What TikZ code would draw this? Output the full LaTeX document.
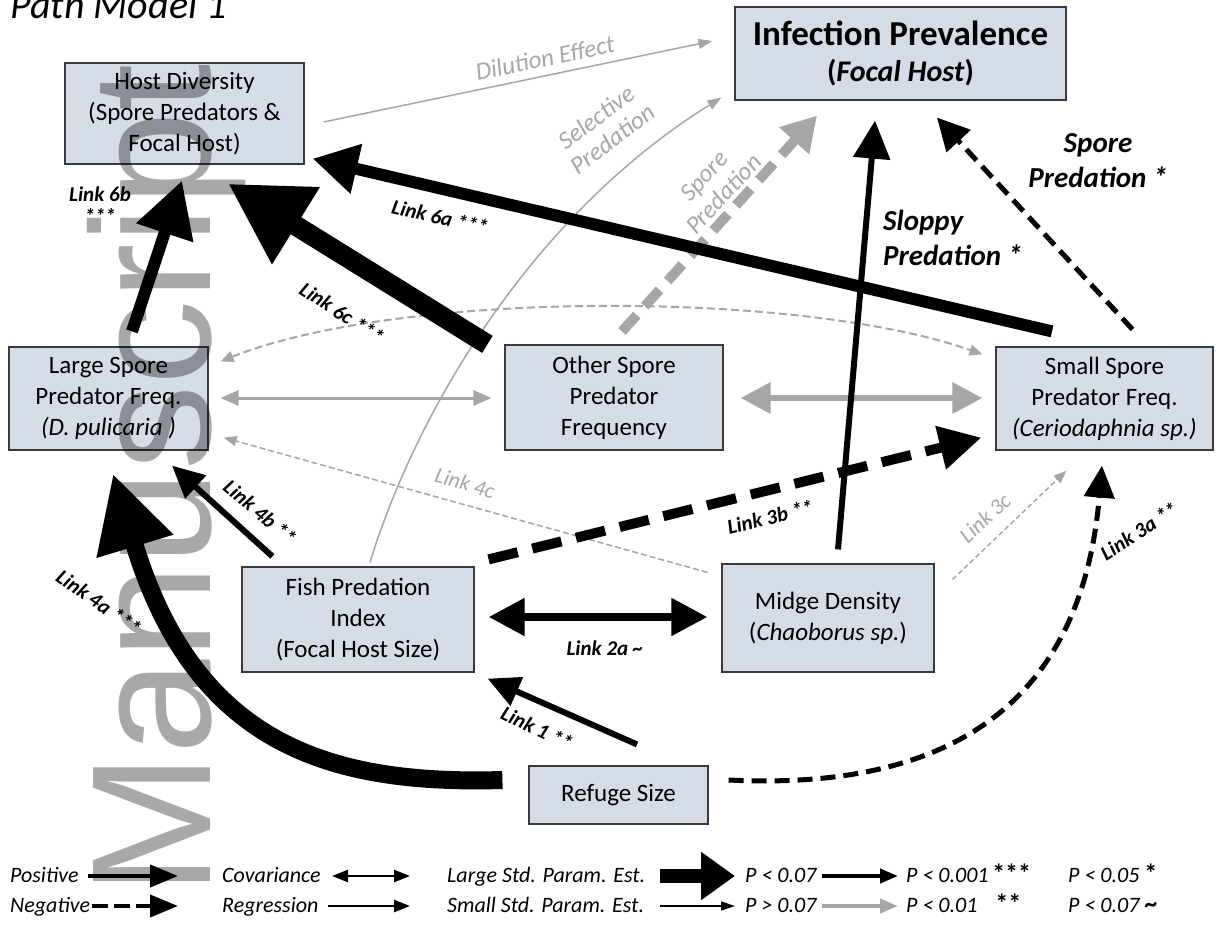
\documentclass[tikz,border=0pt]{standalone}
\usepackage{fontspec}
\setmainfont{Carlito}
\newfontfamily\wmfont{Liberation Sans}
\usetikzlibrary{arrows.meta}
\definecolor{boxfill}{HTML}{D6DCE5}
\definecolor{boxline}{HTML}{3A3A3A}
\definecolor{arrgray}{HTML}{A6A6A6}
\definecolor{wmgray}{HTML}{A8A8A8}
\tikzset{
  box/.style={draw=boxline, fill=boxfill, line width=1.2pt, align=center, inner sep=0pt, font=\fontsize{25}{31}\selectfont},
  graylab/.style={text=arrgray, align=center, inner sep=0pt, font=\fontsize{25}{27}\selectfont\itshape},
  graysmall/.style={text=arrgray, inner sep=0pt, font=\fontsize{22}{24}\selectfont\itshape},
  linklab/.style={align=center, inner sep=0pt, font=\fontsize{21}{22}\selectfont\bfseries\itshape},
  biglab/.style={inner sep=0pt, font=\fontsize{29}{35}\selectfont\bfseries\itshape},
  legtext/.style={anchor=base west, inner sep=0pt, font=\fontsize{22}{24}\selectfont\itshape},
  garrow/.style={draw=arrgray},
}
\begin{document}
\begin{tikzpicture}[x=1pt,y=-1pt]
\useasboundingbox (0,0) rectangle (1221,926);

\node[anchor=base west, inner sep=0pt, font=\fontsize{40}{44}\selectfont\itshape] (title) at (10,18) {Path Model 1};

% boxes
\node[box, minimum width=239pt, minimum height=101pt] (host) at (184.5,113.5) {Host Diversity\\(Spore Predators \&\\Focal Host)};
\node[box, minimum width=331pt, minimum height=93pt, font=\fontsize{35}{36}\selectfont\bfseries] (inf) at (900.5,53.5) {Infection Prevalence\\{\fontsize{30}{36}\selectfont(\textit{Focal Host})}};
\node[box, minimum width=199pt, minimum height=103pt] (large) at (108.5,398.5) {Large Spore\\Predator Freq.\\\textit{(D. pulicaria )}};
\node[box, minimum width=218pt, minimum height=105pt] (other) at (614,397.5) {Other Spore\\Predator\\Frequency};
\node[box, minimum width=217pt, minimum height=103pt] (small) at (1104.5,398.5) {Small Spore\\Predator Freq.\\\textit{(Ceriodaphnia sp.)}};
\node[box, minimum width=232pt, minimum height=105pt] (fish) at (358,619.5) {Fish Predation\\Index\\(Focal Host Size)};
\node[box, minimum width=212pt, minimum height=108pt] (midge) at (828,618) {Midge Density\\(\textit{Chaoborus sp.})};
\node[box, minimum width=179pt, minimum height=58pt] (refuge) at (618.5,795) {Refuge Size};

% gray arrows
\draw[garrow, line width=1.5pt, -{Triangle[length=14pt,width=10pt]}] ([shift={(19,8.5)}]host.east) -- ([shift={(-22,-12.5)}]inf.west);
\draw[garrow, line width=1.5pt, -{Triangle[length=14pt,width=10pt]}] ([shift={(12,-4)}]fish.north) .. controls (420,400) and (540,210) .. ([shift={(-13,-3)}]inf.south west);
\draw[garrow, line width=10pt, dash pattern=on 22pt off 12pt, -{Triangle[length=34pt,width=38pt]}] ([shift={(8,-13)}]other.north) -- ([shift={(-83.5,15)}]inf.south);
\draw[garrow, line width=2pt, dash pattern=on 8pt off 4pt, {Triangle[length=13pt,width=11pt]}-{Triangle[length=13pt,width=11pt]}] ([shift={(12,15)}]large.north east) .. controls (400,290) and (800,290) .. ([shift={(-13,8)}]small.north west);
\draw[garrow, line width=3pt, {Triangle[length=18pt,width=15pt]}-{Triangle[length=18pt,width=15pt]}] ([shift={(12,-0.5)}]large.east) -- ([shift={(-13,0.5)}]other.west);
\draw[garrow, line width=6.5pt, {Triangle[length=30pt,width=30pt]}-{Triangle[length=30pt,width=30pt]}] ([shift={(17,0.5)}]other.east) -- ([shift={(-13,-0.5)}]small.west);
\draw[garrow, line width=1.5pt, dash pattern=on 6pt off 3pt, -{Triangle[length=13pt,width=10pt]}] ([shift={(-14,9)}]midge.north west) -- ([shift={(15,-13)}]large.south east);
\draw[garrow, line width=1.5pt, dash pattern=on 5pt off 3pt, -{Triangle[length=13pt,width=10pt]}] ([shift={(18,16)}]midge.north east) -- ([shift={(71,20)}]small.south west);

% black arrows
\draw[line width=6pt, -{Triangle[length=38pt,width=36pt]}] ([shift={(10,-14)}]midge.north) -- ([shift={(-25.5,20)}]inf.south);
\draw[line width=5pt, dash pattern=on 15pt off 8pt, -{Triangle[length=32pt,width=32pt]}] ([shift={(28,-17)}]small.north) -- ([shift={(36.5,17)}]inf.south);
\draw[line width=12pt, -{Triangle[length=45pt,width=48pt]}] ([shift={(-52.5,-15)}]small.north) -- ([shift={(8,-6)}]host.south east);
\draw[line width=20pt, -{Triangle[length=80pt,width=85pt]}] ([shift={(-17,0)}]other.north west) -- ([shift={(43.5,19)}]host.south);
\draw[line width=12pt, -{Triangle[length=55pt,width=57pt]}] ([shift={(23.5,-15)}]large.north) -- ([shift={(-2.5,16)}]host.south);
\draw[line width=6pt, -{Triangle[length=32pt,width=30pt]}] ([shift={(31,-10)}]fish.north west) -- ([shift={(63.5,15)}]large.south);
\draw[line width=18pt, -{Triangle[length=76pt,width=75pt]}] ([shift={(-26,-15)}]refuge.west) .. controls (330,785) and (195,745) .. ([shift={(4.5,23)}]large.south);
\draw[line width=10pt, dash pattern=on 30pt off 15pt, -{Triangle[length=42pt,width=42pt]}] ([shift={(14,-7)}]fish.north east) -- ([shift={(-14,-13)}]small.south west);
\draw[line width=8pt, {Triangle[length=36pt,width=36pt]}-{Triangle[length=36pt,width=36pt]}] ([shift={(14,-2.5)}]fish.east) -- ([shift={(-14,-1)}]midge.west);
\draw[line width=6pt, -{Triangle[length=32pt,width=30pt]}] ([shift={(18.5,-21)}]refuge.north) -- ([shift={(13,6)}]fish.south east);
\draw[line width=5pt, dash pattern=on 15pt off 8pt, -{Triangle[length=32pt,width=30pt]}] ([shift={(20,-15)}]refuge.east) .. controls (930,790) and (1080,720) .. ([shift={(-2.5,15)}]small.south);

% labels
\node[graylab, rotate=11.7] (ldil) at (545,58) {Dilution Effect};
\node[graylab, rotate=37] (lsel) at (604,128) {Selective\\Predation};
\node[graylab, rotate=47] (lspg) at (714,185) {Spore\\Predation};
\node[biglab, anchor=north west, align=left] (lslop) at (883,210) {Sloppy\\Predation *};
\node[biglab, anchor=north, align=center] (lspb) at (1098,133) {Spore\\Predation *};
\node[linklab, rotate=-13] (l6a) at (440,217) {Link 6a ***};
\node[linklab, rotate=-33] (l6c) at (342,313) {Link 6c ***};
\node[linklab] (l6b) at (100,205) {Link 6b\\***};
\node[linklab, rotate=-40] (l4b) at (260,512) {Link 4b **};
\node[linklab, rotate=-35] (l4a) at (99,602) {Link 4a ***};
\node[graysmall, rotate=-16] (l4c) at (465,483) {Link 4c};
\node[linklab, rotate=14] (l3b) at (770,517) {Link 3b **};
\node[linklab] (l2a) at (605,648) {Link 2a \textasciitilde};
\node[linklab, rotate=-25] (l1) at (537,728) {Link 1 **};
\node[linklab, rotate=33] (l3a) at (1139,531) {Link 3a **};
\node[graysmall, rotate=43] (l3c) at (985,518) {Link 3c};

% legend
\node[legtext] (gpos) at (10,882) {Positive};
\node[legtext] (gneg) at (10,912) {Negative};
\node[legtext] (gcov) at (222,882) {Covariance};
\node[legtext] (greg) at (222,912) {Regression};
\node[legtext] (glar) at (447,882) {Large Std. Param. Est.};
\node[legtext] (gsma) at (447,912) {Small Std. Param. Est.};
\node[legtext] (gp1) at (745,882) {P < 0.07};
\node[legtext] (gp2) at (745,912) {P > 0.07};
\node[legtext] (gp3) at (906,882) {P < 0.001\,{\upshape\bfseries\fontsize{26}{26}\selectfont***}};
\node[legtext] (gp4) at (906,912) {P < 0.01\hspace{18pt}{\upshape\bfseries\fontsize{26}{26}\selectfont**}};
\node[legtext] (gp5) at (1068,882) {P < 0.05 {\upshape\bfseries\fontsize{26}{26}\selectfont*}};
\node[legtext] (gp6) at (1068,912) {P < 0.07 {\upshape\bfseries\fontsize{26}{26}\selectfont\textasciitilde}};

\coordinate (a1s) at (88,876); \coordinate (a1e) at (178,876);
\coordinate (a2s) at (92,906); \coordinate (a2e) at (178,906);
\coordinate (a3s) at (332,876); \coordinate (a3e) at (410,876);
\coordinate (a4s) at (328,906); \coordinate (a4e) at (410,906);
\coordinate (a5s) at (660,876); \coordinate (a5e) at (735,876);
\coordinate (a6s) at (660,906); \coordinate (a6e) at (735,906);
\coordinate (a7s) at (822,876); \coordinate (a7e) at (898,876);
\coordinate (a8s) at (822,906); \coordinate (a8e) at (898,906);
\draw[line width=4pt, -{Triangle[length=28pt,width=22pt]}] (a1s) -- (a1e);
\draw[line width=4pt, dash pattern=on 16pt off 6pt, -{Triangle[length=28pt,width=22pt]}] (a2s) -- (a2e);
\draw[line width=2.5pt, {Triangle[length=16pt,width=12pt]}-{Triangle[length=16pt,width=12pt]}] (a3s) -- (a3e);
\draw[line width=2.5pt, -{Triangle[length=16pt,width=12pt]}] (a4s) -- (a4e);
\draw[line width=14pt, -{Triangle[length=34pt,width=46pt]}] (a5s) -- (a5e);
\draw[line width=1.5pt, -{Triangle[length=14pt,width=9pt]}] (a6s) -- (a6e);
\draw[line width=4pt, -{Triangle[length=18pt,width=14pt]}] (a7s) -- (a7e);
\draw[garrow, line width=4pt, -{Triangle[length=18pt,width=14pt]}] (a8s) -- (a8e);

% watermark
\begin{scope}[blend mode=multiply]
\node[rotate=90, anchor=base west, inner sep=0pt, text=wmgray, font=\wmfont\fontsize{170}{170}\selectfont] (wm) at (210,896) {Manuscript};
\end{scope}
\end{tikzpicture}
\end{document}
